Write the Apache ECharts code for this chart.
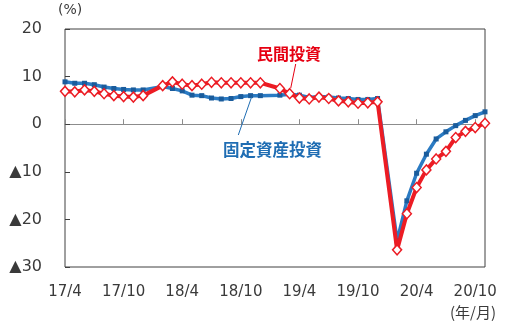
<!DOCTYPE html>
<html><head><meta charset="utf-8">
<script src="https://cdn.jsdelivr.net/npm/echarts@6/dist/echarts.min.js"></script>
<style>html,body{margin:0;padding:0;background:#fff}#c{width:509px;height:327px}</style>
</head><body><div id="c"></div>
<script>
const categories = [
 '17/4','17/5','17/6','17/7','17/8','17/9','17/10','17/11','17/12',
 '18/1','18/2','18/3','18/4','18/5','18/6','18/7','18/8','18/9','18/10','18/11','18/12',
 '19/1','19/2','19/3','19/4','19/5','19/6','19/7','19/8','19/9','19/10','19/11','19/12',
 '20/1','20/2','20/3','20/4','20/5','20/6','20/7','20/8','20/9','20/10','20/11'
];
const fixedAssetInvestment = [
 8.9, 8.6, 8.6, 8.3, 7.8, 7.5, 7.3, 7.2, 7.2,
 null, 7.9, 7.5, 7.0, 6.1, 6.0, 5.5, 5.3, 5.4, 5.8, 6.0, 6.0,
 null, 6.1, 6.3, 6.1, 5.6, 5.8, 5.7, 5.5, 5.4, 5.2, 5.2, 5.4,
 null, -24.5, -16.1, -10.3, -6.3, -3.1, -1.6, -0.3, 0.8, 1.8, 2.6
];
const privateInvestment = [
 6.9, 6.8, 7.2, 6.9, 6.4, 6.0, 5.8, 5.7, 6.0,
 null, 8.1, 8.9, 8.4, 8.1, 8.4, 8.8, 8.7, 8.7, 8.7, 8.7, 8.7,
 null, 7.5, 6.4, 5.5, 5.3, 5.7, 5.4, 4.9, 4.7, 4.4, 4.5, 4.7,
 null, -26.4, -18.8, -13.3, -9.6, -7.3, -5.7, -2.8, -1.5, -0.7, 0.2
];
const yMin = -30, yMax = 20, yStep = 10;

const chart = echarts.init(document.getElementById('c'), null, {renderer: 'canvas'});
const labelColor = '#3a3a3a';
chart.setOption({
  animation: false,
  backgroundColor: '#fff',
  grid: {left: 65, right: 24, top: 29, bottom: 60, show: true, borderColor: '#404040', borderWidth: 1, backgroundColor: 'transparent'},
  xAxis: [
    {
      type: 'category', data: categories, boundaryGap: false, position: 'bottom',
      axisLine: {onZero: true, lineStyle: {color: '#8c8c8c', width: 1}},
      axisTick: {inside: true, length: 5, interval: 5, lineStyle: {color: '#8c8c8c'}},
      axisLabel: {show: false},
      splitLine: {show: false}
    },
    {
      type: 'category', data: categories, boundaryGap: false, position: 'bottom',
      axisLine: {show: false, onZero: false},
      axisTick: {show: false},
      axisLabel: {interval: 5, margin: 18, color: labelColor, fontSize: 15, fontFamily: 'DejaVu Sans'},
      splitLine: {show: false}
    }
  ],
  yAxis: {
    type: 'value', min: yMin, max: yMax, interval: yStep,
    axisLine: {show: false},
    axisTick: {show: true, inside: true, length: 5, lineStyle: {color: '#404040'}},
    splitLine: {show: false},
    axisLabel: {
      margin: 23, color: labelColor, fontSize: 16, fontFamily: 'DejaVu Sans',
      formatter: v => v < 0 ? '▲' + (-v) : String(v)
    }
  },
  series: [
    {
      name: '固定資産投資', type: 'line', data: fixedAssetInvestment, connectNulls: true,
      xAxisIndex: 0, showAllSymbol: true,
      symbol: 'rect', symbolSize: 5,
      lineStyle: {color: '#2b7bc3', width: 3.5},
      itemStyle: {color: '#1a5c9c', borderWidth: 0},
      z: 2
    },
    {
      name: '民間投資', type: 'line', data: privateInvestment, connectNulls: true,
      xAxisIndex: 0, showAllSymbol: true,
      symbol: 'diamond', symbolSize: [9, 10],
      lineStyle: {color: '#ec1c24', width: 4},
      itemStyle: {color: '#ffffff', borderColor: '#ec1c24', borderWidth: 1.5},
      z: 3
    }
  ],
  graphic: [
    {type: 'text', left: 58, top: 3, style: {text: '(%)', font: '14px "DejaVu Sans"', fill: labelColor}},
    {type: 'text', left: 450, top: 305, style: {text: '(年/月)', font: '15px "Noto Sans CJK JP"', fill: labelColor}},
    {type: 'text', left: 257, top: 46, style: {text: '民間投資', font: 'bold 16px "Noto Sans CJK JP"', fill: '#e60012'}, z: 10},
    {type: 'text', left: 223, top: 141, style: {text: '固定資産投資', font: 'bold 16.5px "Noto Sans CJK JP"', fill: '#1f6db3'}, z: 10},
    {type: 'line', shape: {x1: 295.7, y1: 64, x2: 290.7, y2: 88.3}, style: {stroke: '#e60012', lineWidth: 1}, z: 10},
    {type: 'line', shape: {x1: 238.3, y1: 135, x2: 251.7, y2: 96.7}, style: {stroke: '#1f6db3', lineWidth: 1}, z: 10}
  ]
});
</script></body></html>
